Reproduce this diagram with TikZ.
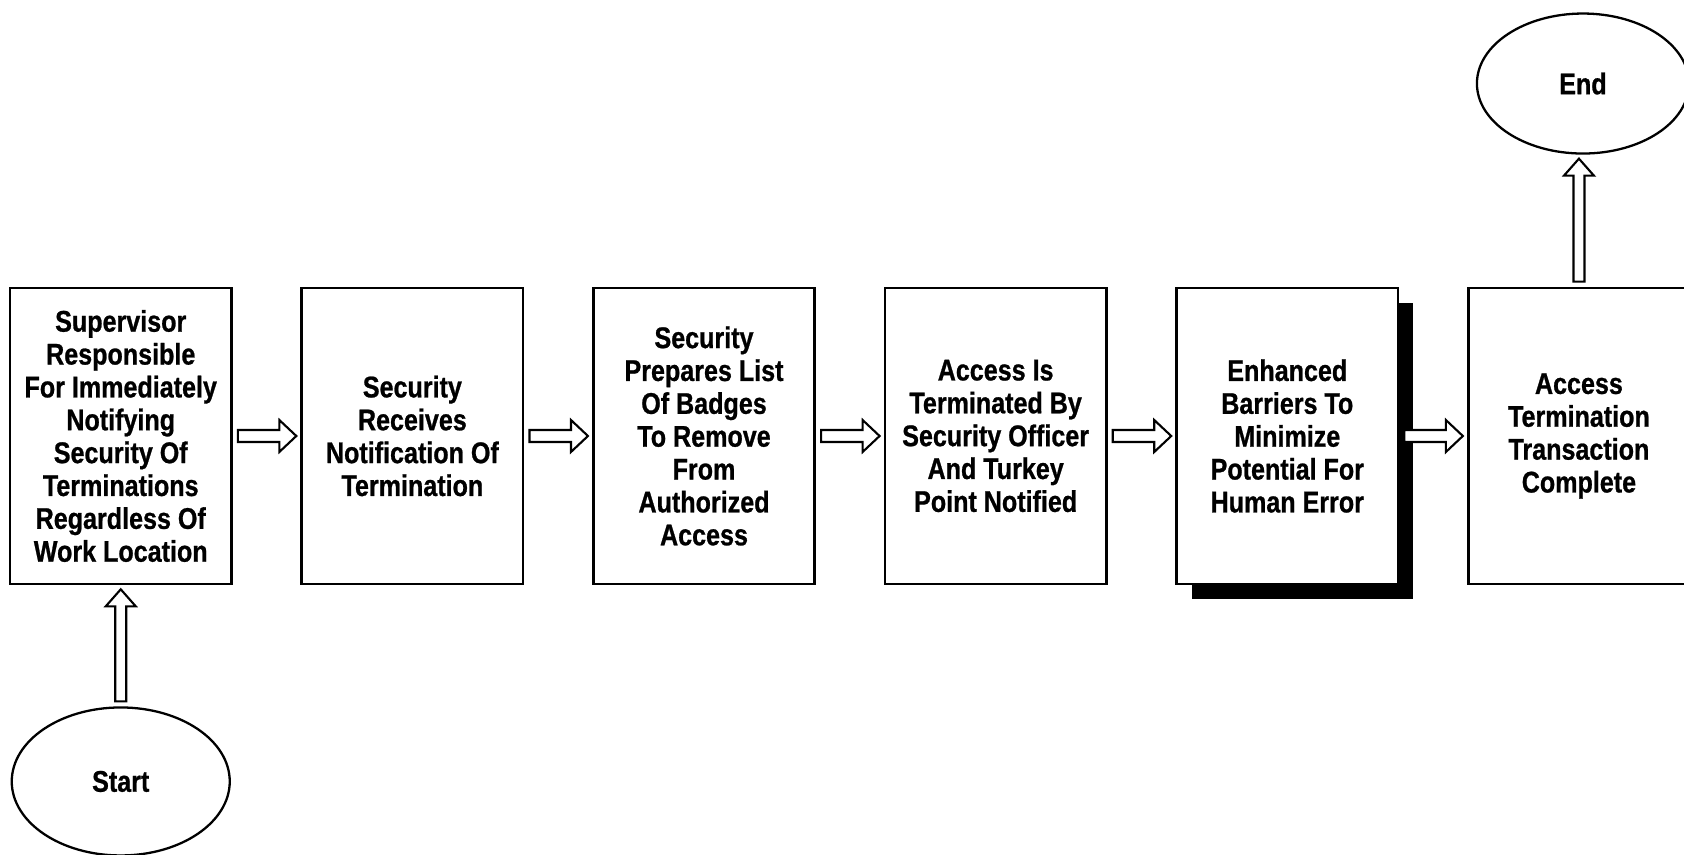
\documentclass[tikz,border=0pt]{standalone}
\usepackage{fontspec}
\newfontfamily\flowfont{Liberation Sans}[FakeStretch=0.84,FakeBold=0.8]
\usetikzlibrary{positioning,calc,shapes.geometric,shadows}

% hollow block arrows between two nodes
\newcommand{\flowarrowh}[2]{%
	\draw[blockarrow] let \p1=(#1.east), \p2=(#2.west) in
		(\x1+1mm,\y1+1.2mm) -- (\x2-4.2mm,\y1+1.2mm) -- (\x2-4.2mm,\y1+3.2mm)
		-- (\x2-0.8mm,\y1) -- (\x2-4.2mm,\y1-3.2mm) -- (\x2-4.2mm,\y1-1.2mm)
		-- (\x1+1mm,\y1-1.2mm) -- cycle;}
\newcommand{\flowarrowv}[2]{%
	\draw[blockarrow] let \p1=(#1.north), \p2=(#2.south) in
		(\x1-1.1mm,\y1+1mm) -- (\x1-1.1mm,\y2-4.2mm) -- (\x1-3mm,\y2-4.2mm)
		-- (\x1,\y2-0.8mm) -- (\x1+3mm,\y2-4.2mm) -- (\x1+1.1mm,\y2-4.2mm)
		-- (\x1+1.1mm,\y1+1mm) -- cycle;}

\begin{document}
\begin{tikzpicture}[
		font=\flowfont\bfseries\fontsize{17}{18.7}\selectfont,
		procbox/.style={draw=black, line width=1.5pt, fill=white, align=center,
			minimum width=4.43cm, minimum height=5.92cm, inner sep=2pt},
		termoval/.style={ellipse, draw=black, line width=1.3pt, fill=white,
			minimum width=4.36cm, minimum height=2.96cm},
		blockarrow/.style={draw=black, line width=1.2pt, fill=white, line join=miter},
	]
	\useasboundingbox (0,0) rectangle (33.68,17.08);

	\node[procbox] (sup) at (2.415,8.36) {Supervisor\\Responsible\\For Immediately\\Notifying\\Security Of\\Terminations\\Regardless Of\\Work Location};
	\node[procbox, right=1.35cm of sup] (recv) {Security\\Receives\\Notification Of\\Termination};
	\node[procbox, right=1.35cm of recv] (prep) {Security\\Prepares List\\Of Badges\\To Remove\\From\\Authorized\\Access};
	\node[procbox, right=1.35cm of prep] (term) {Access Is\\Terminated By\\Security Officer\\And Turkey\\Point Notified};
	\node[procbox, right=1.35cm of term,
		drop shadow={fill=black, opacity=1, shadow xshift=0.3cm, shadow yshift=-0.3cm}] (barr)
		{Enhanced\\Barriers To\\Minimize\\Potential For\\Human Error};
	\node[procbox, right=1.35cm of barr] (done) {Access\\Termination\\Transaction\\Complete};

	\node[termoval, below=2.42cm of sup] (start) {Start};
	\node[termoval, minimum width=4.24cm, minimum height=2.8cm, above=2.64cm of done, xshift=0.08cm] (fin) {End};

	\flowarrowv{start}{sup}
	\flowarrowh{sup}{recv}
	\flowarrowh{recv}{prep}
	\flowarrowh{prep}{term}
	\flowarrowh{term}{barr}
	\flowarrowh{barr}{done}
	\flowarrowv{done}{fin}

\end{tikzpicture}
\end{document}
